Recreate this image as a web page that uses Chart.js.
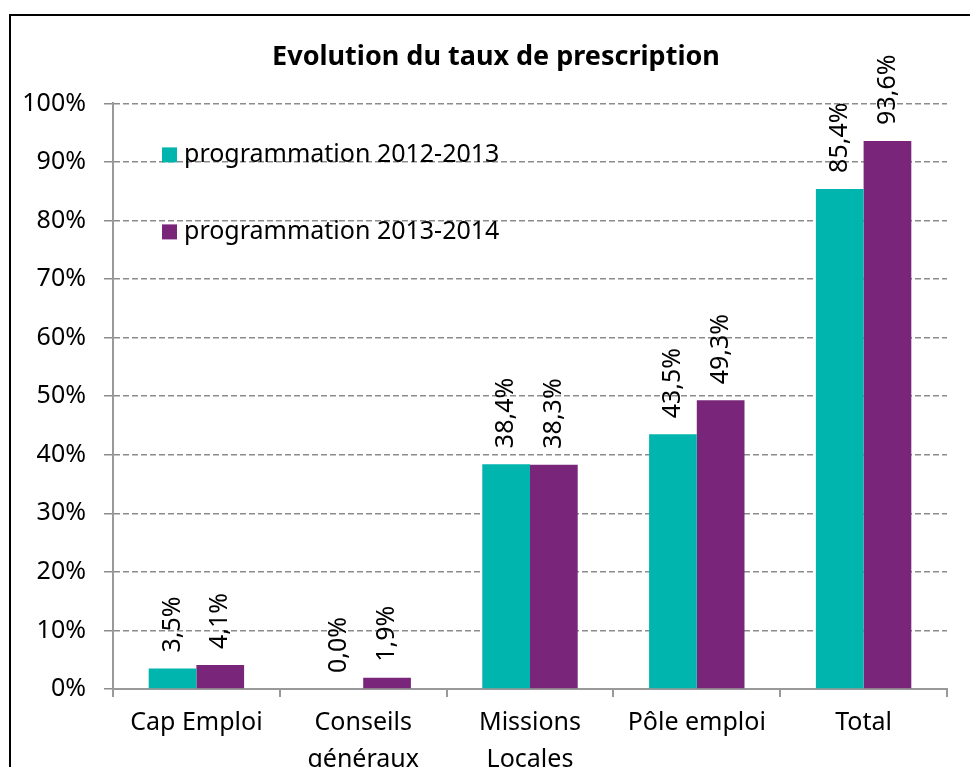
<!DOCTYPE html>
<html>
<head>
<meta charset="utf-8">
<script src="https://cdn.jsdelivr.net/npm/chart.js@4"></script>
<style>
  html, body { margin: 0; padding: 0; background: #fff; }
  #wrap { position: relative; width: 970px; height: 767px; }
</style>
</head>
<body>
<div id="wrap"><canvas id="chart" width="970" height="767"></canvas></div>
<script>
// data
const categories = ["Cap Emploi", ["Conseils", "généraux"], ["Missions", "Locales"], "Pôle emploi", "Total"];
const seriesNames = ["programmation 2012-2013", "programmation 2013-2014"];
const values2012 = [3.5, 0.0, 38.4, 43.5, 85.4];
const values2013 = [4.1, 1.9, 38.3, 49.3, 93.6];
const yTicks = [0, 10, 20, 30, 40, 50, 60, 70, 80, 90, 100];

const TEAL = "#00b5ad";
const PURPLE = "#79257a";
const FONT = "'Noto Sans', sans-serif";

function fmt(v) {
  return v.toFixed(1).replace(".", ",") + "%";
}

// outer frame of the chart
const framePlugin = {
  id: "frame",
  beforeDraw(chart) {
    const ctx = chart.ctx;
    ctx.save();
    ctx.fillStyle = "#fff";
    ctx.fillRect(0, 0, chart.width, chart.height);
    ctx.strokeStyle = "#000";
    ctx.lineWidth = 2;
    ctx.strokeRect(10, 15, 1000, 800);
    ctx.restore();
  }
};

// rotated value labels above each bar
const valueLabels = {
  id: "valueLabels",
  afterDatasetsDraw(chart) {
    const ctx = chart.ctx;
    ctx.save();
    ctx.font = "25px " + FONT;
    ctx.fillStyle = "#000";
    ctx.textAlign = "left";
    ctx.textBaseline = "middle";
    chart.data.datasets.forEach((ds, i) => {
      chart.getDatasetMeta(i).data.forEach((bar, j) => {
        ctx.save();
        ctx.translate(bar.x, bar.y - 16);
        ctx.rotate(-Math.PI / 2);
        ctx.fillText(fmt(ds.data[j]), 0, 0);
        ctx.restore();
      });
    });
    ctx.restore();
  }
};

// legend drawn inside the plot area, top left
const innerLegend = {
  id: "innerLegend",
  afterDraw(chart) {
    const ctx = chart.ctx;
    const a = chart.chartArea;
    ctx.save();
    ctx.font = "25px " + FONT;
    ctx.textBaseline = "middle";
    ctx.textAlign = "left";
    chart.data.datasets.forEach((ds, i) => {
      const y = a.top + 51 + i * 77;
      ctx.fillStyle = ds.backgroundColor;
      ctx.fillRect(a.left + 49, y - 7, 15, 15);
      ctx.fillStyle = "#000";
      ctx.fillText(ds.label, a.left + 71, y);
    });
    ctx.restore();
  }
};

new Chart(document.getElementById("chart"), {
  type: "bar",
  data: {
    labels: categories,
    datasets: [
      { label: seriesNames[0], data: values2012, backgroundColor: TEAL },
      { label: seriesNames[1], data: values2013, backgroundColor: PURPLE }
    ]
  },
  plugins: [framePlugin, valueLabels, innerLegend],
  options: {
    responsive: false,
    animation: false,
    layout: { padding: { left: 22, right: 0, top: 0, bottom: 0 } },
    datasets: { bar: { categoryPercentage: 0.572, barPercentage: 1 } },
    plugins: {
      legend: { display: false },
      tooltip: { enabled: false },
      title: {
        display: true,
        text: "Evolution du taux de prescription",
        color: "#000",
        font: { family: FONT, size: 27, weight: "bold", lineHeight: 1.2 },
        padding: { top: 41, bottom: 30 }
      }
    },
    scales: {
      x: {
        grid: {
          display: true,
          drawOnChartArea: false,
          drawTicks: true,
          tickLength: 8,
          color: "#999",
          lineWidth: 2
        },
        border: { color: "#999", width: 2 },
        ticks: {
          color: "#000",
          font: { family: FONT, size: 25, lineHeight: 1.45 },
          padding: 8,
          autoSkip: false,
          maxRotation: 0
        },
        afterFit(scale) { scale.height = 78; }
      },
      y: {
        min: 0,
        max: 100,
        afterBuildTicks(scale) { scale.ticks = yTicks.map(v => ({ value: v })); },
        grid: {
          color: "#8c8c8c",
          lineWidth: 1.5,
          tickLength: 9,
          tickColor: "#8c8c8c"
        },
        border: { color: "#999", width: 2, dash: [6, 3] },
        ticks: {
          color: "#000",
          font: { family: FONT, size: 25 },
          padding: 18,
          callback: v => v + "%"
        },
        afterFit(scale) { scale.width = 91; }
      },
      yRight: {
        position: "right",
        display: true,
        grid: { display: false, drawTicks: false },
        border: { display: false },
        ticks: { display: false },
        afterFit(scale) { scale.width = 23; }
      }
    }
  }
});
</script>
</body>
</html>
